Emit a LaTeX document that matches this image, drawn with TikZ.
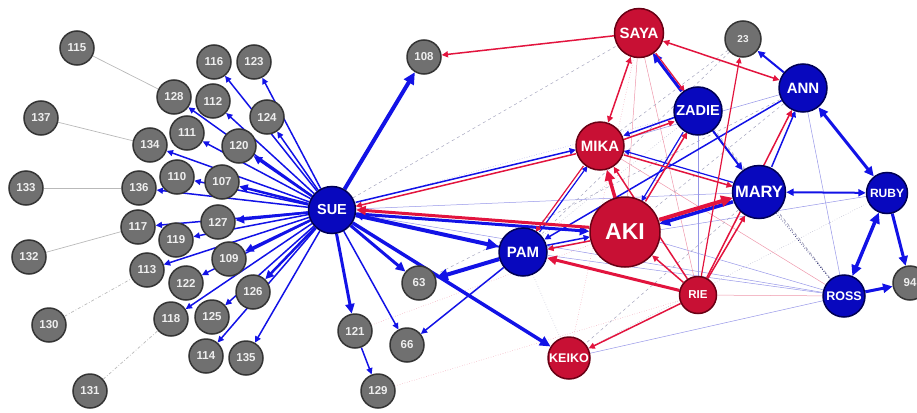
\documentclass[tikz,border=0pt]{standalone}
\usepackage{fontspec}
\setmainfont{Liberation Sans}
\usetikzlibrary{arrows.meta}

\definecolor{grayfill}{RGB}{112,112,112}
\definecolor{grayline}{RGB}{52,52,52}
\definecolor{graytext}{RGB}{238,238,238}
\definecolor{bluefill}{RGB}{8,8,190}
\definecolor{blueline}{RGB}{0,0,84}
\definecolor{redfill}{RGB}{200,16,52}
\definecolor{redline}{RGB}{105,0,20}
\definecolor{edgeblue}{RGB}{18,18,230}
\definecolor{edgered}{RGB}{226,20,62}
\definecolor{linkgray}{RGB}{185,185,185}
\definecolor{fblue}{RGB}{150,150,232}
\definecolor{fred}{RGB}{238,150,170}
\definecolor{fgray}{RGB}{165,165,190}

\newcommand{\fsz}[1]{\bfseries\fontsize{#1}{#1}\selectfont}

\pgfdeclarelayer{bg}
\pgfsetlayers{bg,main}

\begin{document}
\begin{tikzpicture}[x=1pt,y=-1pt]
        \useasboundingbox (0,0) rectangle (917,412);

        \begin{scope}[every node/.style={circle,draw=grayline,line width=1.5pt,fill=grayfill,text=graytext,
                      minimum size=34pt,inner sep=0pt,font=\fsz{11.5}}]
            \node (n115) at (77,48) {115};
            \node (n116) at (214,62) {116};
            \node (n123) at (254,62) {123};
            \node (n128) at (174,97) {128};
            \node (n112) at (213,101) {112};
            \node (n124) at (267,117) {124};
            \node (n137) at (41,118) {137};
            \node (n111) at (187,133) {111};
            \node (n134) at (150,145) {134};
            \node (n120) at (239,146) {120};
            \node (n110) at (177,177) {110};
            \node (n107) at (222,182) {107};
            \node (n133) at (26,188) {133};
            \node (n136) at (139,188) {136};
            \node (n117) at (138,227) {117};
            \node (n127) at (218,222) {127};
            \node (n119) at (176,240) {119};
            \node (n132) at (29,257) {132};
            \node (n109) at (229,259) {109};
            \node (n113) at (147,270) {113};
            \node (n122) at (186,283) {122};
            \node (n126) at (253,292) {126};
            \node (n118) at (171,319) {118};
            \node (n125) at (212,317) {125};
            \node (n130) at (49,325) {130};
            \node (n114) at (206,356) {114};
            \node (n135) at (246,358) {135};
            \node (n131) at (90,391) {131};
            \node (n108) at (424,57) {108};
            \node (n63) at (419,283) {63};
            \node (n121) at (355,331) {121};
            \node (n66) at (407,345) {66};
            \node (n129) at (378,391) {129};
            \node (n23) [minimum size=36pt,font=\fsz{10}] at (743,39) {23};
            \node (n94) at (910,283) {94};
        \end{scope}

        \begin{scope}[every node/.style={circle,draw=blueline,line width=1.5pt,fill=bluefill,text=white,inner sep=0pt}]
            \node (sue) [minimum size=47pt,font=\fsz{14.5}] at (332,210) {SUE};
            \node (pam) [minimum size=48pt,font=\fsz{15}] at (523,252) {PAM};
            \node (zadie) [minimum size=48pt,font=\fsz{14.5}] at (698,111) {ZADIE};
            \node (ann) [minimum size=48pt,font=\fsz{15}] at (803,88) {ANN};
            \node (mary) [minimum size=53pt,font=\fsz{16.5}] at (759,192) {MARY};
            \node (ruby) [minimum size=41pt,font=\fsz{12}] at (887,193) {RUBY};
            \node (ross) [minimum size=42pt,font=\fsz{12.5}] at (844,296) {ROSS};
        \end{scope}

        \begin{scope}[every node/.style={circle,draw=redline,line width=1.5pt,fill=redfill,text=white,inner sep=0pt}]
            \node (saya) [minimum size=49pt,font=\fsz{15}] at (639,33) {SAYA};
            \node (mika) [minimum size=48pt,font=\fsz{15}] at (600,146) {MIKA};
            \node (aki) [minimum size=70pt,font=\fsz{23}] at (625,232) {AKI};
            \node (rie) [minimum size=37pt,font=\fsz{11.5}] at (698,295) {RIE};
            \node (keiko) [minimum size=42pt,font=\fsz{12.5}] at (569,358) {KEIKO};
        \end{scope}

        \begin{pgfonlayer}{bg}
        % faint ties
        \begin{scope}[every edge/.style={draw=fgray,line width=0.5pt}]
            \path (sue) edge[dashed] (saya);
            \path (sue) edge[dotted,draw=fblue] (zadie);
            \path (sue) edge[draw=fblue] (mary);
            \path (sue) edge[draw=fblue] (ross);
            \path (n121) edge[dotted,draw=fred] (aki);
            \path (n66) edge[dotted] (zadie);
            \path (n129) edge[dotted,draw=fred] (rie);
            \path (n63) edge[dashed] (ann);
            \path (keiko) edge[draw=fblue] (ross);
            \path (keiko) edge[dotted] (ruby);
            \path (pam) edge[draw=fblue] (ross);
            \path (pam) edge[dotted] (keiko);
            \path (aki) edge[draw=fblue] (ross);
            \path (mika) edge[draw=fred] (ross);
            \path (rie) edge[draw=fred] (ross);
            \path (saya) edge[draw=fred] (aki);
            \path (saya) edge[draw=fred] (rie);
            \path (saya) edge[dotted,draw=fred] (keiko);
            \path (saya) edge[dashed] (mary);
            \path (saya) edge[dashed] (ross);
            \path (zadie) edge[dashed] (ross);
            \path (zadie) edge[draw=fblue] (rie);
            \path (ann) edge[dashed] (aki);
            \path (ann) edge[draw=fblue] (mika);
            \path (ann) edge[draw=fblue] (ross);
            \path (n23) edge[dashed] (mika);
            \path (n23) edge[dashed] (pam);
            \path (mary) edge[dotted,draw=blueline,line width=0.8pt] (ross);
            \path (mary) edge[dashed] (keiko);
            \path (ruby) edge[draw=fblue] (pam);
        \end{scope}

        % gray links
        \begin{scope}[every edge/.style={draw=linkgray,line width=0.7pt}]
            \path (n115) edge (n128);
            \path (n137) edge (n134);
            \path (n133) edge (n136);
            \path (n132) edge (n117);
            \path (n130) edge[dash dot] (n113);
            \path (n131) edge[dash dot] (n118);
        \end{scope}

        % blue ties
        \begin{scope}[>={Triangle[length=3pt 2.2,width=3pt 2]},
                      every edge/.style={draw=edgeblue,line width=1.5pt}]
            \path [->] (sue) edge (n116);
            \path [->] (sue) edge (n123);
            \path [->] (sue) edge (n124);
            \path [->] (sue) edge (n112);
            \path [->] (sue) edge (n128);
            \path [->] (sue) edge[line width=2.5pt] (n120);
            \path [->] (sue) edge (n111);
            \path [->] (sue) edge (n134);
            \path [->] (sue) edge[line width=2.5pt] (n107);
            \path [->] (sue) edge (n110);
            \path [->] (sue) edge (n136);
            \path [->] (sue) edge[line width=2.5pt] (n127);
            \path [->] (sue) edge (n117);
            \path [->] (sue) edge (n119);
            \path [->] (sue) edge[line width=2.5pt] (n109);
            \path [->] (sue) edge (n113);
            \path [->] (sue) edge (n122);
            \path [->] (sue) edge[line width=2.5pt] (n126);
            \path [->] (sue) edge (n118);
            \path [->] (sue) edge (n125);
            \path [->] (sue) edge (n114);
            \path [->] (sue) edge (n135);
            \path [->] (sue) edge[line width=4pt] (n108);
            \path [->] (sue) edge[line width=3pt] (n63);
            \path [->] (sue) edge[line width=3pt] (n121);
            \path [->] (sue) edge (n66);
            \path [->] (sue) edge[line width=4pt] (pam);
            \path [->] (sue) edge[line width=3.5pt] (keiko);
            \path [->] (sue) edge[line width=3pt,transform canvas={yshift=-2pt}] (aki);
            \path [->] (sue) edge[transform canvas={yshift=2pt}] (mika);
            \path [->] (n121) edge (n129);
            \path [->] (pam) edge[line width=4pt] (n63);
            \path [->] (pam) edge (n66);
            \path [->] (pam) edge[line width=2pt] (sue);
            \path [->] (pam) edge[transform canvas={yshift=2pt}] (aki);
            \path [->] (pam) edge[line width=1.2pt,transform canvas={xshift=2pt}] (mika);
            \path [->] (zadie) edge[line width=3pt,transform canvas={xshift=-1.5pt}] (saya);
            \path [->] (zadie) edge[transform canvas={yshift=2pt}] (mika);
            \path [->] (zadie) edge[line width=1.2pt,transform canvas={xshift=-2pt}] (aki);
            \path [->] (zadie) edge[line width=2pt] (mary);
            \path [->] (ann) edge[line width=2pt] (n23);
            \path [->] (ann) edge (pam);
            \path [<->] (ann) edge[line width=3pt] (ruby);
            \path [->] (mary) edge[transform canvas={xshift=2pt}] (ann);
            \path [->] (mary) edge[line width=1.2pt,transform canvas={yshift=2pt}] (mika);
            \path [->] (mary) edge[line width=3.5pt,transform canvas={yshift=-2pt}] (aki);
            \path [<->] (mary) edge[line width=2pt] (ruby);
            \path [<->] (ruby) edge[line width=3.5pt] (ross);
            \path [->] (ruby) edge[line width=3pt] (n94);
            \path [->] (ross) edge[line width=3pt] (n94);
        \end{scope}

        % red ties
        \begin{scope}[>={Triangle[length=3pt 2.2,width=3pt 2]},
                      every edge/.style={draw=edgered,line width=1.5pt}]
            \path [->] (saya) edge (n108);
            \path [<->] (saya) edge (mika);
            \path [<->] (saya) edge (ann);
            \path [->] (saya) edge[line width=1.2pt,transform canvas={xshift=1.5pt}] (zadie);
            \path [->] (mika) edge[transform canvas={yshift=-2pt}] (sue);
            \path [->] (mika) edge[transform canvas={yshift=-2pt}] (zadie);
            \path [->] (mika) edge[transform canvas={yshift=-2pt}] (mary);
            \path [->] (mika) edge[line width=1.2pt,transform canvas={xshift=-2pt}] (pam);
            \path [->] (aki) edge[line width=3.5pt] (mika);
            \path [->] (aki) edge[line width=3pt,transform canvas={yshift=2pt}] (sue);
            \path [->] (aki) edge[transform canvas={yshift=-2pt}] (pam);
            \path [->] (aki) edge[transform canvas={xshift=2pt}] (zadie);
            \path [->] (aki) edge[line width=4pt,transform canvas={yshift=2pt}] (mary);
            \path [->] (rie) edge (mika);
            \path [->] (rie) edge (aki);
            \path [->] (rie) edge[line width=3pt] (pam);
            \path [->] (rie) edge (keiko);
            \path [->] (rie) edge[line width=1.2pt] (n23);
            \path [->] (rie) edge (mary);
            \path [->] (rie) edge (ann);
        \end{scope}
        \end{pgfonlayer}
    \end{tikzpicture}
\end{document}
